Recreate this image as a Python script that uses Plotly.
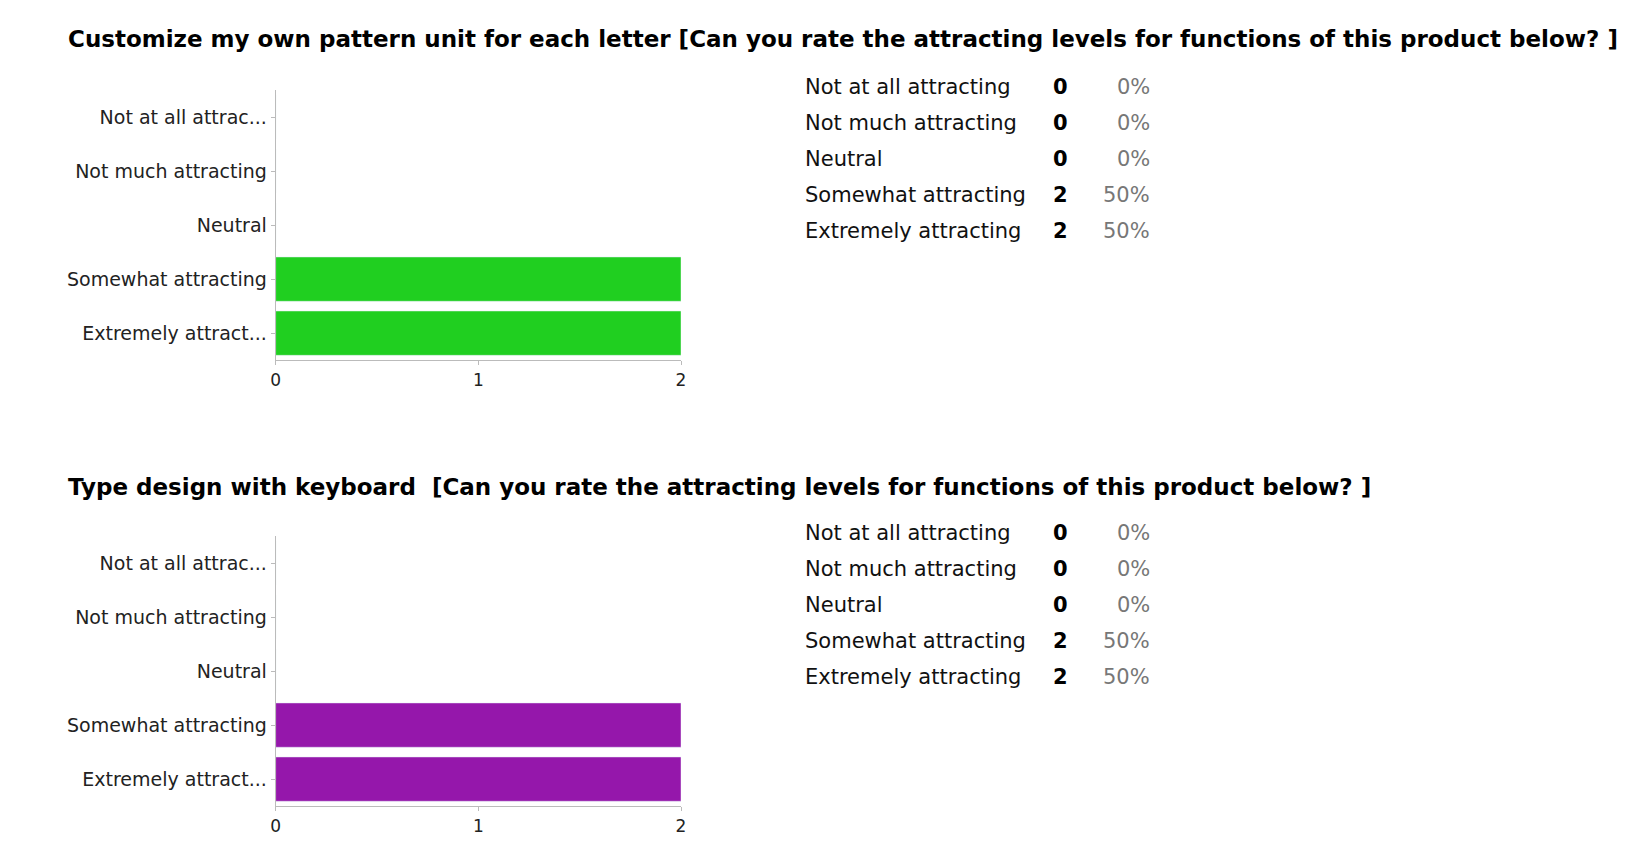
import plotly.graph_objects as go

W, H = 1652, 860

categories = ['Not at all attrac...', 'Not much attracting', 'Neutral',
              'Somewhat attracting', 'Extremely attract...']
full_labels = ['Not at all attracting', 'Not much attracting', 'Neutral',
               'Somewhat attracting', 'Extremely attracting']
counts_1 = [0, 0, 0, 2, 2]
counts_2 = [0, 0, 0, 2, 2]
titles = ['Customize my own pattern unit for each letter [Can you rate the attracting levels for functions of this product below? ]',
          'Type design with keyboard  [Can you rate the attracting levels for functions of this product below? ]']
colors = ['#20cf20', '#9517ab']
x_ticks = [0, 1, 2]

S = 0.944  # screenshot scale

def px_x(p):
    return (p / S - 8) / W

def px_y(p):
    return 1 - (p / S - 8) / H

fig = go.Figure()
panels = [(counts_1, 85, 340, 37, 82), (counts_2, 506, 761, 460, 503)]
for i, (counts, top, bot, ty, row0) in enumerate(panels):
    n = '' if i == 0 else '2'
    fig.add_trace(go.Bar(x=counts, y=categories, orientation='h',
                         marker_color=colors[i], xaxis='x' + n, yaxis='y' + n,
                         showlegend=False))
    fig.update_layout(**{
        'xaxis' + n: dict(domain=[px_x(257), px_x(642)], range=[0, 2],
                          anchor='y' + n, tickvals=x_ticks, showgrid=False,
                          showline=True, linecolor='#bbbbbb', ticks='outside',
                          ticklen=4, tickcolor='#bbbbbb', zeroline=False,
                          tickfont=dict(size=17, color='#222')),
        'yaxis' + n: dict(domain=[px_y(bot), px_y(top)], anchor='x' + n,
                          autorange='reversed', showline=True, linecolor='#bbbbbb',
                          ticks='outside', ticklen=4, tickcolor='#bbbbbb',
                          tickfont=dict(size=19, color='#222')),
    })
    fig.add_annotation(text='<b>' + titles[i] + '</b>', x=px_x(58), y=px_y(ty),
                       xref='paper', yref='paper', xanchor='left', yanchor='middle',
                       showarrow=False, font=dict(size=23, color='black'))
    total = sum(counts)
    for j, lab in enumerate(full_labels):
        yy = px_y(row0 + 34 * j)
        fig.add_annotation(text=lab, x=px_x(758), y=yy, xref='paper', yref='paper',
                           xanchor='left', yanchor='middle', showarrow=False,
                           font=dict(size=21, color='#111'))
        fig.add_annotation(text='<b>%d</b>' % counts[j], x=px_x(1011), y=yy,
                           xref='paper', yref='paper', xanchor='right',
                           yanchor='middle', showarrow=False,
                           font=dict(size=21, color='black'))
        fig.add_annotation(text='%d%%' % round(100 * counts[j] / total),
                           x=px_x(1089), y=yy, xref='paper', yref='paper',
                           xanchor='right', yanchor='middle', showarrow=False,
                           font=dict(size=21, color='#777'))

fig.update_layout(width=W, height=H, margin=dict(l=0, r=0, t=0, b=0),
                  paper_bgcolor='white', plot_bgcolor='white', bargap=0.18,
                  font_family='DejaVu Sans')
fig.write_html('out.html')
